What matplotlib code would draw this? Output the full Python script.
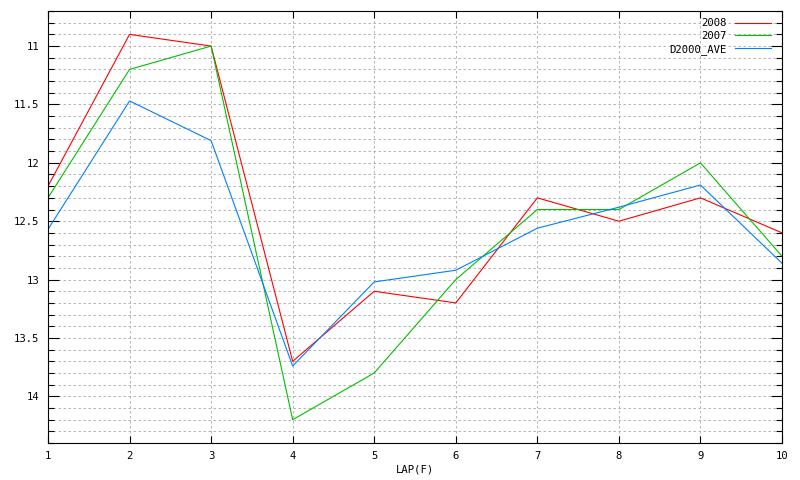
import matplotlib
matplotlib.use("Agg")
import matplotlib.pyplot as plt
from matplotlib.ticker import MultipleLocator

laps = [1, 2, 3, 4, 5, 6, 7, 8, 9, 10]
y2008 = [12.2, 10.9, 11.0, 13.7, 13.1, 13.2, 12.3, 12.5, 12.3, 12.6]
y2007 = [12.3, 11.2, 11.0, 14.2, 13.8, 13.0, 12.4, 12.4, 12.0, 12.8]
d2000_ave = [12.57, 11.47, 11.81, 13.74, 13.02, 12.92, 12.56, 12.38, 12.19, 12.86]

plt.rcParams['font.family'] = ['DejaVu Sans Mono']
plt.rcParams['font.size'] = 7.6

fig = plt.figure(figsize=(8, 4.8), dpi=100)
ax = fig.add_axes([0.06, 0.077, 0.9175, 0.9])

ax.plot(laps, y2008, color='#ff0000', lw=0.8, label='2008')
ax.plot(laps, y2007, color='#00c000', lw=0.8, label='2007')
ax.plot(laps, d2000_ave, color='#0080ff', lw=0.8, label='D2000_AVE')

ax.set_xlim(1, 10)
ax.set_ylim(14.4, 10.7)
ax.xaxis.set_major_locator(MultipleLocator(1))
ax.yaxis.set_major_locator(MultipleLocator(0.5))
ax.yaxis.set_minor_locator(MultipleLocator(0.1))
ax.yaxis.set_major_formatter(plt.FuncFormatter(lambda v, p: '%g' % v))

grid_style = dict(color='#a8a8a8', linestyle=(0, (3, 3)), linewidth=0.6)
ax.grid(True, which='major', axis='both', **grid_style)
ax.grid(True, which='minor', axis='y', **grid_style)
ax.set_axisbelow(True)

ax.tick_params(which='both', direction='in', top=True, right=True, width=0.8, color='black')
ax.tick_params(axis='x', which='major', length=5, pad=6)
ax.tick_params(axis='y', which='major', length=8, pad=6)
ax.tick_params(axis='y', which='minor', length=4.3)
for s in ax.spines.values():
    s.set_linewidth(0.8)

ax.set_xlabel('LAP(F)', labelpad=2)

leg = ax.legend(loc='upper right', frameon=False, markerfirst=False,
                handlelength=3.4, handletextpad=0.8, labelspacing=0.25,
                borderaxespad=0.3, bbox_to_anchor=(0.995, 1.0))
for t in leg.get_texts():
    t.set_ha('right')

fig.savefig('out.png', dpi=100)
